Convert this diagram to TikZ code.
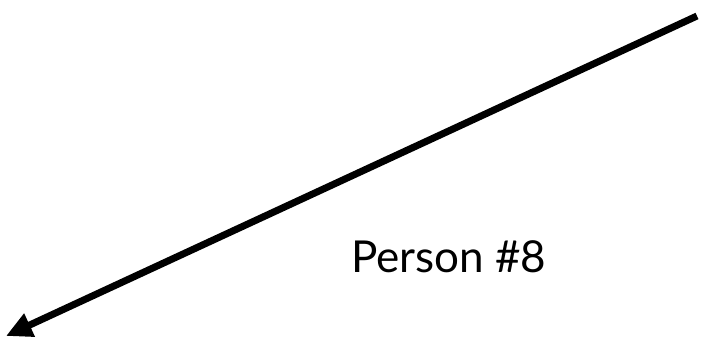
\documentclass[tikz,border=0pt]{standalone}
\usepackage{fontspec}
\setmainfont{Lato}
\usetikzlibrary{arrows.meta}
\begin{document}
\begin{tikzpicture}[x=1pt,y=1pt,
  conn/.style={line width=7pt,-{Triangle[length=26pt,width=24pt]}},
  lbl/.style={font=\fontsize{44}{52}\selectfont,anchor=base west,inner sep=0pt}]
\useasboundingbox (0,0) rectangle (703,347);
\coordinate (s) at (697,331);
\coordinate (e) at (6,11);
\draw[conn] (s) -- (e);
\node[lbl] (t) at (351,74) {Person \#8};
\end{tikzpicture}
\end{document}
